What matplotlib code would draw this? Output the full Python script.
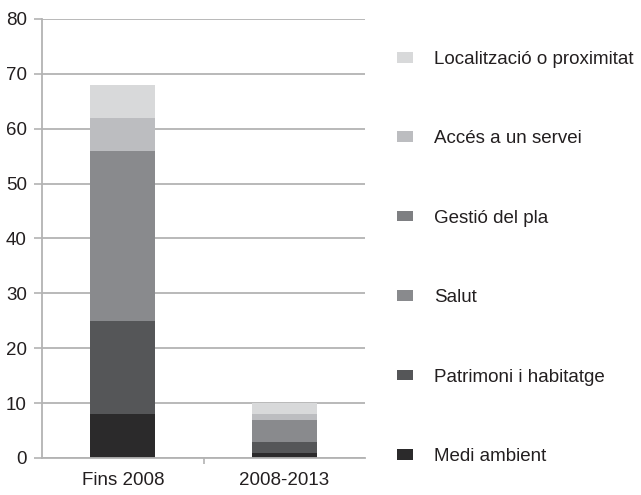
import matplotlib
matplotlib.use("Agg")
import matplotlib.pyplot as plt
import numpy as np

plt.rcParams['font.family'] = ['Liberation Sans', 'DejaVu Sans']

periods = ['Fins 2008', '2008-2013']
series = ['Medi ambient', 'Patrimoni i habitatge', 'Salut', 'Gestió del pla',
          'Accés a un servei', 'Localització o proximitat']
medi_ambient = [8, 1]
patrimoni = [17, 2]
salut = [31, 4]
gestio = [0, 0]
acces = [6, 1]
localitzacio = [6, 2]
yticks = np.arange(0, 90, 10)

values = [medi_ambient, patrimoni, salut, gestio, acces, localitzacio]
colours = ['#2b2a2b', '#555658', '#898a8d', '#7e7f82', '#bcbdc0', '#d8d9da']
text_col = '#231f20'
grid_col = '#b3b3b3'
fsize = 13.5

fig = plt.figure(figsize=(6.41, 4.95), dpi=100)
ax = fig.add_axes([42 / 641, 1 - 458 / 495, 323 / 641, 439 / 495])

x = np.arange(len(periods))
bottom = np.zeros(len(periods))
handles = []
for name, vals, c in zip(series, values, colours):
    vals = np.array(vals, dtype=float)
    h = ax.bar(x, vals, 0.4, bottom=bottom, color=c, label=name, zorder=2)
    handles.append(h)
    bottom += vals

ax.set_xlim(-0.5, 1.5)
ax.set_ylim(0, 80)
ax.set_yticks(yticks)
ax.yaxis.grid(True, color=grid_col, linewidth=1.3, zorder=0)
ax.set_xticks(x, periods)
ax.set_xticks([0.5], minor=True)
ax.tick_params(axis='x', which='major', length=0, pad=10, labelsize=fsize, labelcolor=text_col)
ax.tick_params(axis='x', which='minor', length=4, color=grid_col, width=1.2)
ax.tick_params(axis='y', length=6, color=grid_col, width=1.2, pad=5,
               labelsize=fsize, labelcolor=text_col)
for side in ['top', 'right']:
    ax.spines[side].set_visible(False)
for side in ['left', 'bottom']:
    ax.spines[side].set_color(grid_col)
    ax.spines[side].set_linewidth(1.3)

fig.legend(handles[::-1], series[::-1], loc='center left',
           bbox_to_anchor=(397 / 641, 1 - 258 / 495), frameon=False,
           fontsize=fsize, labelcolor=text_col, borderpad=0, borderaxespad=0,
           handlelength=0.85, handleheight=0.5, handletextpad=1.15,
           labelspacing=3.33)

fig.savefig('out.png', dpi=100)
